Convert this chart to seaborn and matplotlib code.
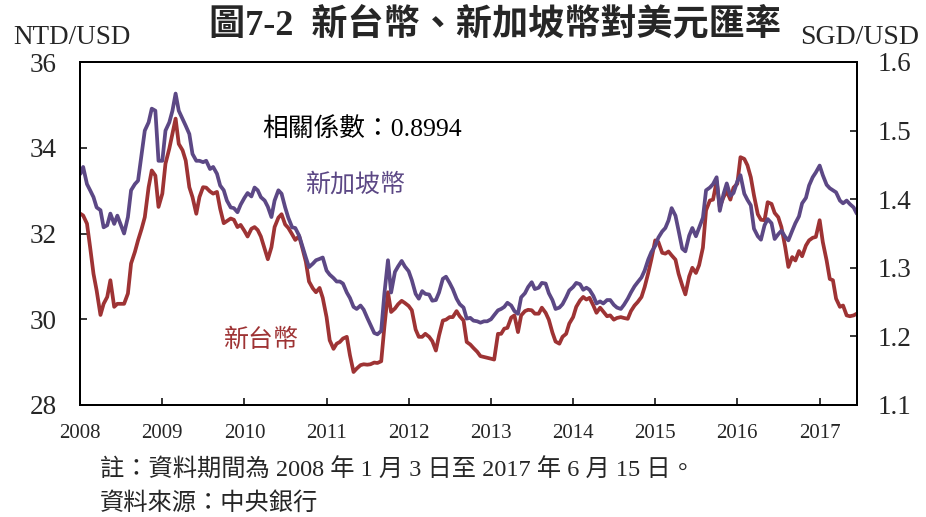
import matplotlib
matplotlib.use("Agg")
import matplotlib.pyplot as plt
import pandas as pd
import seaborn as sns

# Semi-monthly observations, 2008-01-03 .. 2017-06-15
dates = pd.date_range("2008-01-01", "2017-06-15", freq="SMS")
dates = pd.DatetimeIndex([pd.Timestamp("2008-01-03"), *dates[1:]])

# New Taiwan dollar per US dollar
ntd_usd = [
    32.46, 32.42, 32.23, 31.68, 31.06, 30.67, 30.10, 30.36, 30.52, 30.91, 30.29, 30.36,
    30.36, 30.36, 30.60, 31.30, 31.57, 31.84, 32.11, 32.38, 33.08, 33.47, 33.35, 32.62,
    32.93, 33.63, 33.98, 34.33, 34.68, 34.09, 33.94, 33.70, 33.08, 32.85, 32.46, 32.85,
    33.08, 33.07, 32.98, 32.93, 32.97, 32.58, 32.24, 32.29, 32.35, 32.32, 32.15, 32.20,
    32.06, 31.93, 32.11, 32.15, 32.08, 31.93, 31.64, 31.40, 31.68, 32.15, 32.37, 32.45,
    32.21, 32.13, 31.98, 31.85, 31.94, 31.67, 31.34, 30.88, 30.72, 30.63, 30.73, 30.50,
    30.05, 29.51, 29.31, 29.43, 29.47, 29.55, 29.59, 29.16, 28.77, 28.85, 28.93, 28.95,
    28.94, 28.95, 28.99, 28.98, 29.02, 29.82, 30.63, 30.17, 30.25, 30.35, 30.43, 30.38,
    30.31, 30.21, 29.76, 29.59, 29.59, 29.66, 29.59, 29.49, 29.27, 29.62, 29.97, 29.99,
    30.05, 30.05, 30.19, 30.07, 29.97, 29.47, 29.41, 29.33, 29.24, 29.14, 29.12, 29.10,
    29.08, 29.06, 29.66, 29.66, 29.78, 29.80, 30.04, 30.09, 29.70, 30.09, 30.19, 30.22,
    30.21, 30.13, 30.13, 30.27, 30.15, 29.99, 29.69, 29.48, 29.43, 29.59, 29.66, 29.90,
    30.05, 30.29, 30.44, 30.52, 30.46, 30.50, 30.32, 30.15, 30.27, 30.18, 30.07, 30.09,
    29.99, 30.03, 30.05, 30.03, 30.01, 30.19, 30.32, 30.40, 30.52, 30.75, 31.08, 31.40,
    31.84, 31.80, 31.55, 31.53, 31.58, 31.49, 31.39, 31.06, 30.79, 30.58, 31.00, 31.20,
    31.08, 31.26, 31.67, 32.54, 32.77, 32.79, 33.22, 32.62, 32.85, 32.99, 32.79, 33.07,
    33.16, 33.78, 33.74, 33.59, 33.31, 32.89, 32.45, 32.32, 32.31, 32.73, 32.69, 32.48,
    32.38, 32.15, 31.68, 31.22, 31.45, 31.37, 31.59, 31.47, 31.72, 31.84, 31.90, 31.92,
    32.31, 31.80, 31.37, 30.94, 30.91, 30.48, 30.29, 30.32, 30.09, 30.07, 30.09, 30.13,
]

# Singapore dollar per US dollar
sgd_usd = [
    1.437, 1.447, 1.422, 1.413, 1.403, 1.388, 1.384, 1.359, 1.362, 1.379, 1.364, 1.376,
    1.362, 1.350, 1.374, 1.413, 1.422, 1.427, 1.466, 1.500, 1.512, 1.532, 1.529, 1.456,
    1.456, 1.500, 1.512, 1.529, 1.554, 1.529, 1.517, 1.507, 1.495, 1.466, 1.456, 1.456,
    1.454, 1.456, 1.444, 1.447, 1.437, 1.420, 1.413, 1.398, 1.388, 1.387, 1.381, 1.392,
    1.402, 1.409, 1.404, 1.417, 1.413, 1.403, 1.398, 1.389, 1.374, 1.398, 1.413, 1.408,
    1.388, 1.373, 1.359, 1.358, 1.347, 1.332, 1.315, 1.301, 1.306, 1.311, 1.313, 1.315,
    1.296, 1.290, 1.285, 1.280, 1.280, 1.277, 1.264, 1.256, 1.243, 1.240, 1.245, 1.239,
    1.227, 1.217, 1.205, 1.203, 1.208, 1.262, 1.311, 1.264, 1.294, 1.302, 1.310, 1.302,
    1.295, 1.282, 1.262, 1.255, 1.266, 1.262, 1.261, 1.252, 1.253, 1.264, 1.284, 1.287,
    1.278, 1.269, 1.255, 1.247, 1.242, 1.226, 1.227, 1.223, 1.222, 1.220, 1.222, 1.222,
    1.225, 1.231, 1.238, 1.240, 1.243, 1.249, 1.245, 1.237, 1.233, 1.257, 1.263, 1.272,
    1.279, 1.269, 1.271, 1.278, 1.277, 1.263, 1.253, 1.240, 1.242, 1.247, 1.257, 1.267,
    1.272, 1.278, 1.276, 1.268, 1.271, 1.268, 1.259, 1.248, 1.251, 1.248, 1.253, 1.253,
    1.246, 1.242, 1.240, 1.246, 1.255, 1.264, 1.273, 1.279, 1.286, 1.296, 1.312, 1.323,
    1.332, 1.344, 1.353, 1.358, 1.369, 1.387, 1.376, 1.354, 1.328, 1.324, 1.347, 1.358,
    1.346, 1.358, 1.373, 1.413, 1.417, 1.422, 1.432, 1.383, 1.408, 1.423, 1.405, 1.409,
    1.426, 1.435, 1.408, 1.399, 1.391, 1.357, 1.346, 1.341, 1.362, 1.371, 1.365, 1.342,
    1.349, 1.354, 1.345, 1.340, 1.354, 1.365, 1.375, 1.394, 1.402, 1.420, 1.432, 1.439,
    1.449, 1.435, 1.421, 1.416, 1.413, 1.410, 1.398, 1.394, 1.398, 1.393, 1.388, 1.379,
]

ntd_ticks = [28, 30, 32, 34, 36]
sgd_ticks = [1.1, 1.2, 1.3, 1.4, 1.5, 1.6]
year_ticks = list(range(2008, 2018))
corr_label = "相關係數：0.8994"

RED = "#9e3334"
PURPLE = "#5c4885"
SERIF_CJK = ["Liberation Serif", "Noto Sans CJK TC"]

sns.set_style("ticks")
plt.rcParams["font.family"] = SERIF_CJK
plt.rcParams["axes.unicode_minus"] = False

W, H = 926, 517
fig = plt.figure(figsize=(W / 100, H / 100), dpi=100)
L, R, T, B = 80, 857, 62, 405
ax = fig.add_axes([L / W, 1 - B / H, (R - L) / W, (B - T) / H])
ax2 = ax.twinx()

df = pd.DataFrame({"date": dates, "ntd": ntd_usd, "sgd": sgd_usd})
sns.lineplot(data=df, x="date", y="ntd", ax=ax, color=RED, lw=2.7)
sns.lineplot(data=df, x="date", y="sgd", ax=ax2, color=PURPLE, lw=2.7)

ax.set_xlim(pd.Timestamp("2008-01-01"), pd.Timestamp("2017-06-16"))
ax.set_ylim(ntd_ticks[0], ntd_ticks[-1])
ax2.set_ylim(sgd_ticks[0], sgd_ticks[-1])
ax.set_yticks(ntd_ticks)
ax.set_yticklabels([str(v) for v in ntd_ticks])
ax2.set_yticks(sgd_ticks)
ax2.set_yticklabels([f"{v:.1f}" for v in sgd_ticks])
ax.set_xticks([pd.Timestamp(f"{y}-01-01") for y in year_ticks])
ax.set_xticklabels([str(y) for y in year_ticks])

for a in (ax, ax2):
    a.set_xlabel("")
    a.set_ylabel("")
    for s in a.spines.values():
        s.set_linewidth(1.4)
        s.set_color("black")
        s.set_visible(True)

ax.tick_params(axis="y", direction="in", length=5, width=1.3, labelsize=19.5, pad=17)
ax2.tick_params(axis="y", direction="in", length=5, width=1.3, labelsize=19.5, pad=15)
ax.tick_params(axis="x", direction="in", length=5, width=1.3, labelsize=15, pad=14)

# Titles and unit labels
fig.text(495 / W, 1 - 25 / H, "圖7-2  新台幣、新加坡幣對美元匯率", ha="center", va="center",
         fontsize=26, fontweight="bold", family=SERIF_CJK)
fig.text(72 / W, 1 - 37 / H, "NTD/USD", ha="center", va="center", fontsize=19.5)
fig.text(860 / W, 1 - 38 / H, "SGD/USD", ha="center", va="center", fontsize=20)

# Annotations inside the plot
fig.text(262 / W, 1 - 130 / H, corr_label, ha="left", va="center", fontsize=18.5, color="black")
fig.text(356 / W, 1 - 185 / H, "新加坡幣", ha="center", va="center", fontsize=18, color=PURPLE)
fig.text(261 / W, 1 - 340 / H, "新台幣", ha="center", va="center", fontsize=18, color=RED)

# Footnotes
fig.text(100 / W, 1 - 470 / H, "註：資料期間為 2008 年 1 月 3 日至 2017 年 6 月 15 日。",
         ha="left", va="center", fontsize=17.5)
fig.text(100 / W, 1 - 503 / H, "資料來源：中央銀行", ha="left", va="center", fontsize=17.5)

fig.savefig("out.png", dpi=100)
